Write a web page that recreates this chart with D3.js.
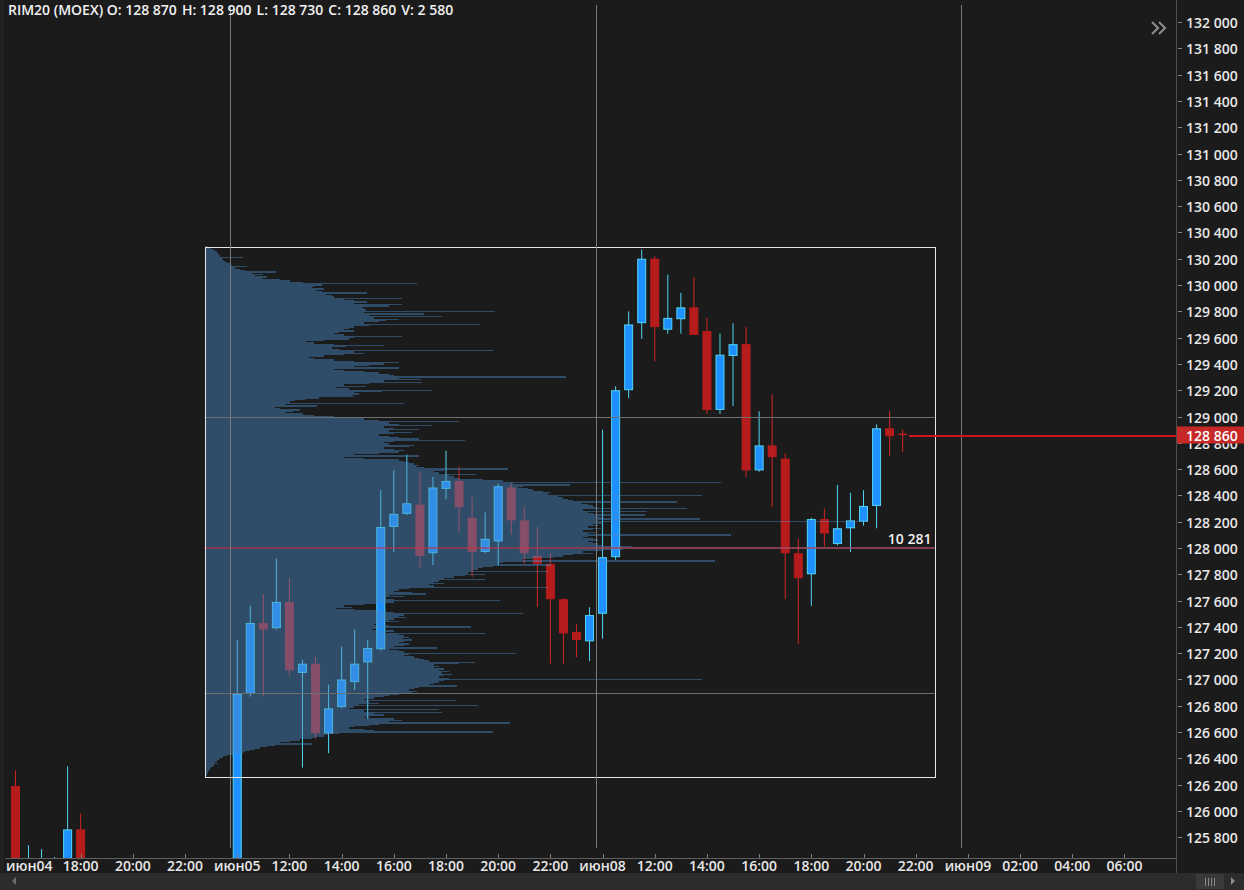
<!DOCTYPE html>
<html><head><meta charset="utf-8">
<script src="https://cdn.jsdelivr.net/npm/d3@7"></script>
<style>
html,body{margin:0;padding:0;background:#1b1b1b;overflow:hidden;}
svg{display:block;}
text{font-family:"Open Sans",sans-serif;}
</style></head><body>
<svg id="chart" width="1244" height="890"></svg>
<script>
// ---------------- DATA ----------------
const symbolName = "RIM20 (MOEX)";
const lastVolume = 2580;

const candleTimes = [
 "2020-06-04 15:30","2020-06-04 16:00","2020-06-04 16:30","2020-06-04 17:00","2020-06-04 17:30","2020-06-04 18:00",
 "2020-06-05 10:00","2020-06-05 10:30","2020-06-05 11:00","2020-06-05 11:30","2020-06-05 12:00","2020-06-05 12:30",
 "2020-06-05 13:00","2020-06-05 13:30","2020-06-05 14:00","2020-06-05 14:30","2020-06-05 15:00","2020-06-05 15:30",
 "2020-06-05 16:00","2020-06-05 16:30","2020-06-05 17:00","2020-06-05 17:30","2020-06-05 18:00","2020-06-05 18:30",
 "2020-06-05 19:00","2020-06-05 19:30","2020-06-05 20:00","2020-06-05 20:30","2020-06-05 21:00","2020-06-05 21:30",
 "2020-06-05 22:00","2020-06-05 22:30","2020-06-05 23:00","2020-06-05 23:30",
 "2020-06-08 10:00","2020-06-08 10:30","2020-06-08 11:00","2020-06-08 11:30","2020-06-08 12:00","2020-06-08 12:30",
 "2020-06-08 13:00","2020-06-08 13:30","2020-06-08 14:00","2020-06-08 14:30","2020-06-08 15:00","2020-06-08 15:30",
 "2020-06-08 16:00","2020-06-08 16:30","2020-06-08 17:00","2020-06-08 17:30","2020-06-08 18:00","2020-06-08 18:30",
 "2020-06-08 19:00","2020-06-08 19:30","2020-06-08 20:00","2020-06-08 20:30","2020-06-08 21:00","2020-06-08 21:30"
];
const opens = [
 126190,125520,125600,125580,125630,125860,
 125500,126890,127430,127390,127590,127050,127120,126590,126790,126980,127130,127230,
 128160,128260,128330,127960,128450,128510,128230,127970,128050,128460,128210,127940,
 127880,127610,127360,127290,
 127500,127930,129200,129710,130200,129660,129740,129830,129650,129050,129460,129550,
 128590,128780,128680,127960,127800,128220,128030,128150,128200,128320,128910,128870
];
const highs = [
 126310,125740,125710,125650,126340,125980,
 127300,127560,127650,127920,127770,127150,127170,126960,127250,127380,127300,128440,
 128590,128710,128580,128540,128740,128620,128390,128270,128490,128490,128310,128160,
 127960,127620,127420,127550,
 128900,129230,129800,130270,130220,130080,129940,130060,129750,129630,129710,129680,
 129040,129170,128720,128070,128230,128300,128480,128420,128440,128940,129040,128900
];
const lows = [
 125400,125450,125520,125540,125600,125420,
 125450,126870,126870,127380,127030,126330,126550,126440,126780,126920,126700,127220,
 127970,128250,127850,127870,128370,128120,127780,127960,127870,128100,127880,127550,
 127120,127120,127170,127140,
 127310,127910,129140,129590,129420,129630,129630,129620,129020,129020,129080,128540,
 128580,128310,127610,127270,127560,128010,128020,127970,128170,128150,128700,128730
];
const closes = [
 125520,125600,125640,125630,125860,125500,
 126890,127430,127380,127590,127070,127120,126590,126780,127000,127120,127240,128160,
 128260,128340,127940,128460,128510,128310,127970,128070,128470,128210,127960,127880,
 127610,127350,127300,127490,
 127930,129200,129700,130200,129680,129750,129830,129620,129050,129470,129550,128590,
 128780,128690,127960,127770,128220,128110,128150,128210,128320,128910,128850,128860
];

// volume profile (rows of 10 points, from the top price down)
const profileTopPrice = 130290;
const profileStep = 10;
const profileVolumes = [
 42,84,112,140,168,182,196,210,532,238,
 252,280,308,350,378,588,420,490,560,994,
 658,812,700,868,798,1050,1190,1372,2982,1652,
 1540,1512,1680,1568,1652,2282,1708,1792,1820,2772,
 1960,2100,2282,2100,2772,2590,2212,2240,2268,4088,
 2240,3080,2310,3332,2380,2730,2548,2450,2240,3878,
 2310,2100,2030,1960,2100,1890,1820,1960,2772,2100,
 2030,1680,1428,1540,1820,2520,1988,1792,1890,4060,
 2100,2240,1960,1680,1470,1540,1820,2100,2730,2520,
 2310,2100,2730,1820,1960,2240,2450,2590,2660,5082,
 2730,3038,2520,3052,2310,1960,2268,1848,2030,3192,
 2492,2100,2170,2072,2100,1610,1400,1260,1190,2800,
 1120,1582,980,1050,1330,1232,1120,1372,1540,1820,
 1960,2240,2450,3570,2590,2730,3192,2520,2660,3010,
 2590,2912,2660,2450,2590,2730,3010,3668,2660,2520,
 2590,2940,2870,2520,2660,2800,2730,2450,2100,3010,
 1960,2240,2730,2800,2870,2940,3010,2968,3080,4270,
 3360,3220,3290,3822,3430,3500,3570,3920,4200,7266,
 4340,5138,4480,4410,4550,4620,4760,4872,4830,7000,
 4970,5040,5110,5180,6650,5292,5390,5460,5530,6790,
 5320,6230,5390,5460,6202,5530,5600,6972,5530,9338,
 5600,5460,5530,5390,5572,5460,5320,5488,5390,7406,
 5390,5320,5460,5530,5390,5460,5530,5600,6020,10281,
 5880,5600,5320,5460,5180,5040,4900,4620,4480,7182,
 4200,4130,4872,4060,3920,3850,3780,4830,3710,3948,
 3668,3500,3360,3948,3290,3220,3360,3150,3220,4830,
 2870,2730,2660,2912,3108,2590,2800,2548,2660,4158,
 2660,2450,2240,1960,2072,1848,2100,2548,2660,4480,
 2800,2730,2828,2660,2590,2730,2492,2380,2590,3752,
 2450,2352,2660,2520,3948,2730,2800,2870,2772,2912,
 2800,2730,2870,2800,2660,3262,2590,2730,2800,4382,
 2870,2800,2940,3010,3080,3150,3808,3570,3220,3290,
 3220,3360,3290,3430,3332,3472,3360,3290,3430,7000,
 3360,3290,3220,3150,3542,3010,2940,2870,2982,2912,
 2730,2590,2520,2380,2240,3528,2310,2450,2170,3850,
 2100,2030,3290,2240,3332,2380,2520,2310,2240,2660,
 2772,2590,4298,2450,2310,2100,2030,2240,2380,4060,
 1890,1750,1680,1568,1512,1330,1190,1050,1512,980,
 868,770,700,630,560,532,392,308,252,210,
 196,168,140,182,126,112,84,70,56,42,
 42,28,28,14
];
const pocPrice = 128000;
const pocVolume = 10281;
const valueAreaHigh = 129000;
const valueAreaLow = 126900;
const rangeStart = "2020-06-04 22:45";
const rangeEnd = "2020-06-08 22:43";
const rangeHigh = 130290;
const rangeLow = 126260;

const daySeparators = ["2020-06-05 09:45","2020-06-08 09:45","2020-06-08 23:45"];

const priceTicks = [125800,126000,126200,126400,126600,126800,127000,127200,127400,127600,127800,
 128000,128200,128400,128600,128800,129000,129200,129400,129600,129800,130000,130200,130400,
 130600,130800,131000,131200,131400,131600,131800,132000];
const timeTicks = ["2020-06-04 10:00","2020-06-04 18:00","2020-06-04 20:00","2020-06-04 22:00",
 "2020-06-05 10:00","2020-06-05 12:00","2020-06-05 14:00","2020-06-05 16:00","2020-06-05 18:00","2020-06-05 20:00","2020-06-05 22:00",
 "2020-06-08 10:00","2020-06-08 12:00","2020-06-08 14:00","2020-06-08 16:00","2020-06-08 18:00","2020-06-08 20:00","2020-06-08 22:00",
 "2020-06-09 00:00","2020-06-09 02:00","2020-06-09 04:00","2020-06-09 06:00"];
const timeTickLabels = ["июн04","18:00","20:00","22:00","июн05","12:00","14:00","16:00","18:00","20:00","22:00",
 "июн08","12:00","14:00","16:00","18:00","20:00","22:00","июн09","02:00","04:00","06:00"];

// ---------------- LAYOUT ----------------
const W = 1244, H = 890;
const plotLeft = 5, plotRight = 1176, plotTop = 0, plotBottom = 858;
const sessionDays = ["2020-06-04","2020-06-05","2020-06-08"];
const sessionOpenMin = 600, slotMin = 30, slotsPerSession = 28;
const firstFutureDay = "2020-06-09";
const viewSlots = [-45.8, 43.95];
const viewPrices = [125642.5, 132167.5];
const fontW = 600;

function slotIndex(ts){
  const [d,t] = ts.split(" ");
  const [h,m] = t.split(":").map(Number);
  const mins = h*60+m;
  const si = sessionDays.indexOf(d);
  const anchor = sessionDays.length-1;
  if (si >= 0) return (si-anchor)*slotsPerSession + (mins-sessionOpenMin)/slotMin;
  const dayDiff = (Date.parse(d)-Date.parse(firstFutureDay))/86400000;
  return slotsPerSession + (dayDiff*1440 + mins)/slotMin;
}

const x = d3.scaleLinear().domain(viewSlots).range([plotLeft, plotRight]);
const y = d3.scaleLinear().domain(viewPrices).range([plotBottom, plotTop]);
const loc = d3.formatLocale({decimal:".", thousands:" ", grouping:[3], currency:["",""]});
const fmt = loc.format(",d");

const svg = d3.select("#chart");
svg.append("rect").attr("width",W).attr("height",H).attr("fill","#1b1b1b");
svg.append("rect").attr("x",0).attr("y",0).attr("width",4).attr("height",873).attr("fill","#222");

const defs = svg.append("defs");
defs.append("clipPath").attr("id","plotClip").append("rect")
  .attr("x",plotLeft).attr("y",plotTop).attr("width",plotRight-plotLeft).attr("height",plotBottom-plotTop);

const plot = svg.append("g").attr("clip-path","url(#plotClip)");

// candles
const candles = candleTimes.map((t,i)=>({t, o:opens[i], h:highs[i], l:lows[i], c:closes[i]}));
const slotW = x(1)-x(0);
const bodyW = Math.round(slotW*0.69);
const upBody="#1e90ff", upLine="#52d4f2", downBody="#b71c1c", downLine="#d22626";
const cg = plot.append("g");
candles.forEach(d=>{
  const xc = x(slotIndex(d.t));
  const up = d.c >= d.o;
  cg.append("line").attr("x1",xc).attr("x2",xc).attr("y1",y(d.h)).attr("y2",y(d.l))
    .attr("stroke", up?upLine:downLine).attr("stroke-width",1);
  const top = y(Math.max(d.o,d.c)), bot = y(Math.min(d.o,d.c));
  const hgt = Math.max(1, bot-top);
  cg.append("rect").attr("x",xc-bodyW/2+0.5).attr("y",top+0.5)
    .attr("width",bodyW-1).attr("height",Math.max(0.5,hgt-1))
    .attr("fill", up?upBody:downBody).attr("stroke", up?upLine:downBody).attr("stroke-width",1);
});

// volume profile overlay
const rx0 = x(slotIndex(rangeStart)), rx1 = x(slotIndex(rangeEnd));
const xv = d3.scaleLinear().domain([0,pocVolume]).range([0, rx1-rx0]);
const pg = plot.append("g").attr("opacity",0.45).attr("shape-rendering","crispEdges");
profileVolumes.forEach((v,i)=>{
  const p = profileTopPrice - i*profileStep;
  const y0 = y(p+profileStep/2), y1 = y(p-profileStep/2);
  pg.append("rect").attr("x",rx0+0.5).attr("y",y0).attr("width",xv(v)).attr("height",y1-y0)
    .attr("fill","#498bc7");
});

// value area lines
[valueAreaHigh, valueAreaLow].forEach(p=>{
  plot.append("line").attr("x1",rx0).attr("x2",rx1).attr("y1",Math.round(y(p))+0.5).attr("y2",Math.round(y(p))+0.5)
    .attr("stroke","#6e6e6e").attr("stroke-width",1);
});
// POC line
plot.append("line").attr("x1",rx0).attr("x2",rx1).attr("y1",y(pocPrice)).attr("y2",y(pocPrice))
  .attr("stroke","#c8303e").attr("stroke-opacity",0.55).attr("stroke-width",2);
plot.append("text").attr("x",rx1-3).attr("y",y(pocPrice)-4).attr("text-anchor","end")
  .attr("fill","#f0f0f0").attr("font-size",14).attr("font-weight",fontW).text(fmt(pocVolume));

// range rectangle
plot.append("rect").attr("x",Math.round(rx0)+0.5).attr("y",Math.round(y(rangeHigh))+0.5)
  .attr("width",Math.round(rx1-rx0)).attr("height",Math.round(y(rangeLow)-y(rangeHigh)))
  .attr("fill","none").attr("stroke","#e6e6e6").attr("stroke-width",1);

// day separators
daySeparators.forEach(t=>{
  const xs = Math.floor(x(slotIndex(t)))+0.5;
  plot.append("line").attr("x1",xs).attr("x2",xs).attr("y1",5).attr("y2",848)
    .attr("stroke","#7a7a7a").attr("stroke-width",1);
});

// last price line
const last = candles[candles.length-1];
const lastX = x(slotIndex(last.t));
const lastYr = Math.round(y(last.c));
const lineStart = Math.round(lastX + slotW/2);
svg.append("rect").attr("x",lineStart).attr("y",lastYr-0.5).attr("width",plotRight-lineStart).attr("height",2)
  .attr("fill","#d0141c").attr("shape-rendering","crispEdges");
const lastY = lastYr + 0.5;

// ---------------- AXES ----------------
// right price axis
svg.append("line").attr("x1",plotRight+0.5).attr("x2",plotRight+0.5).attr("y1",0).attr("y2",873)
  .attr("stroke","#4e4e4e");
const ya = svg.append("g");
priceTicks.forEach(p=>{
  const yy = Math.round(y(p))+0.5;
  ya.append("line").attr("x1",plotRight+2).attr("x2",plotRight+6).attr("y1",yy).attr("y2",yy).attr("stroke","#8a8a8a");
  ya.append("text").attr("x",plotRight+10).attr("y",yy).attr("dy","0.36em")
    .attr("fill","#e8e8e8").attr("font-size",14).attr("font-weight",fontW).text(fmt(p));
});
// last price box
svg.append("rect").attr("x",plotRight+1).attr("y",lastY-9).attr("width",W-plotRight-1).attr("height",17).attr("fill","#c62828");
svg.append("text").attr("x",plotRight+10).attr("y",lastY).attr("dy","0.36em")
  .attr("fill","#ffffff").attr("font-size",14).attr("font-weight",fontW).text(fmt(last.c));

// bottom time axis
svg.append("line").attr("x1",plotLeft).attr("x2",plotRight).attr("y1",plotBottom+0.5).attr("y2",plotBottom+0.5)
  .attr("stroke","#5e5e5e");
const xa = svg.append("g");
timeTicks.forEach((t,i)=>{
  const xt = x(slotIndex(t));
  if (xt >= plotLeft && xt <= plotRight){
    xa.append("line").attr("x1",Math.round(xt)+0.5).attr("x2",Math.round(xt)+0.5)
      .attr("y1",plotBottom-4).attr("y2",plotBottom).attr("stroke","#7a7a7a");
  }
  const lab = xa.append("text").attr("y",871).attr("text-anchor","middle")
    .attr("fill","#e8e8e8").attr("font-size",14).attr("font-weight",fontW).text(timeTickLabels[i]);
  const w = lab.node().getComputedTextLength();
  lab.attr("x", Math.max(xt, plotLeft + w/2 + 1));
});

// scrollbar
svg.append("rect").attr("x",0).attr("y",873).attr("width",W).attr("height",17).attr("fill","#2c2c2e");
svg.append("path").attr("d","M16,877 L12,881 L16,885 Z").attr("fill","#6a6a6a");
svg.append("rect").attr("x",1196).attr("y",874).attr("width",28).attr("height",15).attr("fill","#3a3a3c");
[1205,1208,1211,1214].forEach(xx=>svg.append("line").attr("x1",xx+0.5).attr("x2",xx+0.5).attr("y1",878).attr("y2",886).attr("stroke","#8a8a8a"));
svg.append("path").attr("d","M1231,877 L1235,881 L1231,885 Z").attr("fill","#8a8a8a");

// chevrons
svg.append("path").attr("d","M1152,22 L1158,28 L1152,34 M1159,22 L1165,28 L1159,34")
  .attr("fill","none").attr("stroke","#8a8a8a").attr("stroke-width",2.2);

// title
const title = svg.append("text").attr("x",8).attr("y",15).attr("fill","#f2f2f2").attr("font-size",14)
  .attr("font-weight",fontW);
const titleParts = [`${symbolName} O: ${fmt(last.o)}`, `H: ${fmt(last.h)}`, `L: ${fmt(last.l)}`, `C: ${fmt(last.c)}`, `V: ${fmt(lastVolume)}`];
titleParts.forEach((s,i)=>title.append("tspan").attr("dx", i===0?0:5).text(s));
</script>
</body></html>
